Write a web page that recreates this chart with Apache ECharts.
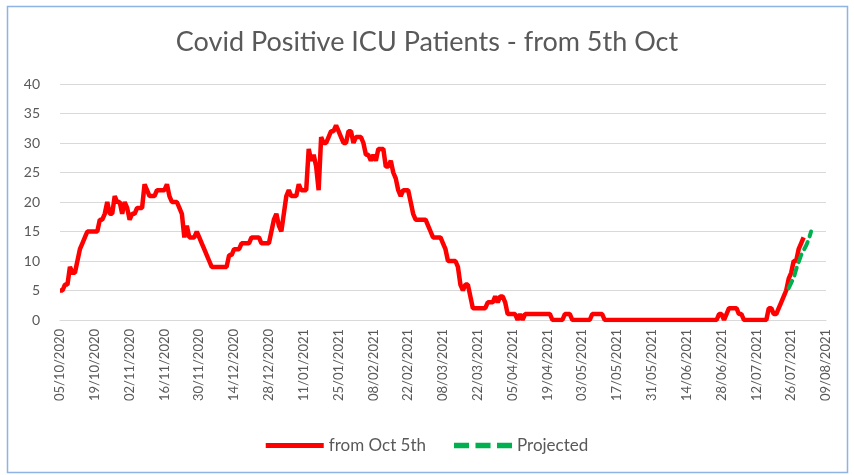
<!DOCTYPE html>
<html>
<head>
<meta charset="utf-8">
<script src="https://cdn.jsdelivr.net/npm/echarts@6/dist/echarts.min.js"></script>
<style>
  html, body { margin: 0; padding: 0; background: #fff; }
  #chart { width: 854px; height: 475px; }
</style>
</head>
<body>
<div id="chart"></div>
<script>
// daily categories, 05/10/2020 .. 09/08/2021
var startDate = [2020, 9, 5];
var dayCount = 309;

// ICU patients per day from 05/10/2020
var fromOct5th = [
  5, 5, 6, 6, 9, 8, 8, 10, 12, 13,
  14, 15, 15, 15, 15, 15, 17, 17, 18, 20,
  18, 18, 21, 20, 20, 18, 20, 19, 17, 18,
  18, 19, 19, 19, 23, 22, 21, 21, 21, 22,
  22, 22, 22, 23, 21, 20, 20, 20, 19, 18,
  14, 16, 14, 14, 14, 15, 14, 13, 12, 11,
  10, 9, 9, 9, 9, 9, 9, 9, 11, 11,
  12, 12, 12, 13, 13, 13, 13, 14, 14, 14,
  14, 13, 13, 13, 13, 15, 17, 18, 16, 15,
  18, 21, 22, 21, 21, 21, 23, 22, 22, 22,
  29, 27, 28, 26, 22, 31, 30, 30, 31, 32,
  32, 33, 32, 31, 30, 30, 32, 32, 30, 31,
  31, 31, 30, 28, 28, 27, 28, 27, 29, 29,
  29, 26, 26, 27, 25, 24, 22, 21, 22, 22,
  22, 20, 18, 17, 17, 17, 17, 17, 16, 15,
  14, 14, 14, 14, 13, 12, 10, 10, 10, 10,
  9, 6, 5, 6, 6, 4, 2, 2, 2, 2,
  2, 2, 3, 3, 3, 4, 3, 4, 4, 3,
  1, 1, 1, 1, 0, 1, 0, 1, 1, 1,
  1, 1, 1, 1, 1, 1, 1, 1, 0, 0,
  0, 0, 0, 1, 1, 1, 0, 0, 0, 0,
  0, 0, 0, 0, 1, 1, 1, 1, 1, 0,
  0, 0, 0, 0, 0, 0, 0, 0, 0, 0,
  0, 0, 0, 0, 0, 0, 0, 0, 0, 0,
  0, 0, 0, 0, 0, 0, 0, 0, 0, 0,
  0, 0, 0, 0, 0, 0, 0, 0, 0, 0,
  0, 0, 0, 0, 0, 1, 1, 0, 1, 2,
  2, 2, 2, 1, 1, 0, 0, 0, 0, 0,
  0, 0, 0, 0, 0, 2, 2, 1, 1, 2,
  3, 4, 5, 7, 8, 10, 10, 12, 13, 14
];

// projected values, starting at day 293 (23/07/2021)
var projectedStart = 293;
var projected = [5.4, 6.3, 7.1, 8.6, 9.8, 11, 11.8, 12.6, 13.6, 15];

var yTicks = [0, 5, 10, 15, 20, 25, 30, 35, 40];

function pad(n) { return (n < 10 ? '0' : '') + n; }
var categories = [];
for (var i = 0; i < dayCount; i++) {
  var d = new Date(Date.UTC(startDate[0], startDate[1], startDate[2] + i));
  categories.push(pad(d.getUTCDate()) + '/' + pad(d.getUTCMonth() + 1) + '/' + d.getUTCFullYear());
}

var projSeries = [];
for (var j = 0; j < dayCount; j++) projSeries.push(null);
projected.forEach(function (v, k) { projSeries[projectedStart + k] = v; });

var font = 'Lato';
var chart = echarts.init(document.getElementById('chart'));
chart.setOption({
  backgroundColor: '#ffffff',
  animation: false,
  textStyle: { fontFamily: font },
  title: {
    text: 'Covid Positive ICU Patients - from 5th Oct',
    left: 'center',
    top: 24,
    textStyle: { fontFamily: font, fontSize: 27, fontWeight: 'normal', color: '#595959' }
  },
  legend: {
    bottom: 16,
    left: 'center',
    itemWidth: 58,
    itemHeight: 10,
    itemGap: 28,
    textStyle: { fontFamily: font, fontSize: 17, color: '#595959' },
    data: [
      { name: 'from Oct 5th', icon: 'path://M0,0 L58,0 L58,5 L0,5 Z' },
      { name: 'Projected', icon: 'path://M0,0 L14,0 L14,5 L0,5 Z M20,0 L34,0 L34,5 L20,5 Z M40,0 L54,0 L54,5 L40,5 Z' }
    ]
  },
  graphic: [{
    type: 'rect',
    shape: { x: 7.5, y: 6.5, width: 840, height: 466 },
    style: { fill: null, stroke: '#8db4e2', lineWidth: 1.5 },
    silent: true
  }],
  grid: { left: 60, right: 28, top: 84, bottom: 155, containLabel: false },
  xAxis: {
    type: 'category',
    data: categories,
    boundaryGap: false,
    axisLine: { show: true, lineStyle: { color: '#d9d9d9', width: 1 } },
    axisTick: { show: false },
    axisLabel: {
      interval: 13,
      rotate: 90,
      margin: 9,
      fontFamily: font,
      fontSize: 13,
      color: '#595959'
    }
  },
  yAxis: {
    type: 'value',
    min: yTicks[0],
    max: yTicks[yTicks.length - 1],
    interval: 5,
    axisLine: { show: false },
    axisTick: { show: false },
    axisLabel: { margin: 20, fontFamily: font, fontSize: 14, color: '#595959' },
    splitLine: { lineStyle: { color: '#d9d9d9', width: 1 } }
  },
  series: [
    {
      name: 'from Oct 5th',
      type: 'line',
      data: fromOct5th,
      showSymbol: false,
      symbol: 'none',
      lineStyle: { color: '#ff0000', width: 4.5 },
      itemStyle: { color: '#ff0000' },
      z: 2
    },
    {
      name: 'Projected',
      type: 'line',
      data: projSeries,
      showSymbol: false,
      symbol: 'none',
      connectNulls: false,
      lineStyle: { color: '#00b050', width: 4, type: [8, 6], cap: 'round' },
      itemStyle: { color: '#00b050' },
      z: 3
    }
  ]
});
</script>
</body>
</html>
